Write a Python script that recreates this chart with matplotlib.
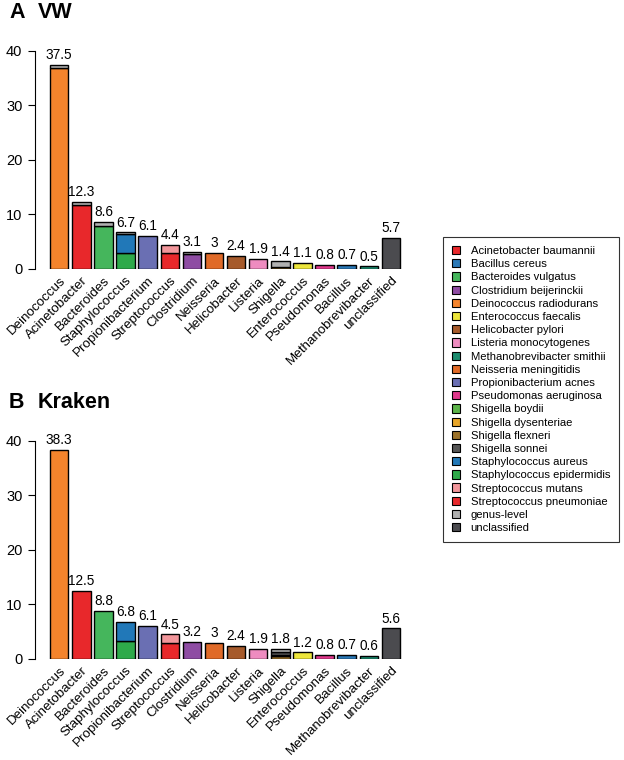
import numpy as np
import matplotlib.pyplot as plt
from matplotlib.patches import Patch

plt.rcParams['font.family'] = ['Liberation Sans', 'DejaVu Sans']

# genera on the x axis (same order in both panels)
genera = ["Deinococcus", "Acinetobacter", "Bacteroides", "Staphylococcus",
          "Propionibacterium", "Streptococcus", "Clostridium", "Neisseria",
          "Helicobacter", "Listeria", "Shigella", "Enterococcus",
          "Pseudomonas", "Bacillus", "Methanobrevibacter", "unclassified"]

# legend entries
species = ["Acinetobacter baumannii", "Bacillus cereus", "Bacteroides vulgatus",
           "Clostridium beijerinckii", "Deinococcus radiodurans",
           "Enterococcus faecalis", "Helicobacter pylori",
           "Listeria monocytogenes", "Methanobrevibacter smithii",
           "Neisseria meningitidis", "Propionibacterium acnes",
           "Pseudomonas aeruginosa", "Shigella boydii", "Shigella dysenteriae",
           "Shigella flexneri", "Shigella sonnei", "Staphylococcus aureus",
           "Staphylococcus epidermidis", "Streptococcus mutans",
           "Streptococcus pneumoniae", "genus-level", "unclassified"]

colors = ["#e8282b", "#2a78b6", "#45b65c", "#8e4ca3", "#f4842c", "#ece53b",
          "#a65a2b", "#ee8cc0", "#1c8c6f", "#e06a28", "#6a6fb3", "#e0388c",
          "#5cb44a", "#e8a629", "#9c7229", "#555555", "#2178b8", "#2eaa4a",
          "#f2969b", "#e8282b", "#b0b0b0", "#4b4b4f"]

# bottom -> top order of the stacked segments
stack_order = ["unclassified", "Acinetobacter baumannii", "Bacillus cereus",
               "Bacteroides vulgatus", "Clostridium beijerinckii",
               "Deinococcus radiodurans", "Enterococcus faecalis",
               "Helicobacter pylori", "Listeria monocytogenes",
               "Methanobrevibacter smithii", "Neisseria meningitidis",
               "Propionibacterium acnes", "Pseudomonas aeruginosa",
               "Shigella flexneri", "Shigella dysenteriae", "Shigella sonnei",
               "Shigella boydii", "Staphylococcus epidermidis",
               "Staphylococcus aureus", "Streptococcus pneumoniae",
               "Streptococcus mutans", "genus-level"]

vw_totals = [37.5, 12.3, 8.6, 6.7, 6.1, 4.4, 3.1, 3, 2.4, 1.9, 1.4, 1.1,
             0.8, 0.7, 0.5, 5.7]
kraken_totals = [38.3, 12.5, 8.8, 6.8, 6.1, 4.5, 3.2, 3, 2.4, 1.9, 1.8, 1.2,
                 0.8, 0.7, 0.6, 5.6]

vw_segments = [
    ("Deinococcus", "Deinococcus radiodurans", 36.8),
    ("Deinococcus", "genus-level", 0.7),
    ("Acinetobacter", "Acinetobacter baumannii", 11.8),
    ("Acinetobacter", "genus-level", 0.5),
    ("Bacteroides", "Bacteroides vulgatus", 7.9),
    ("Bacteroides", "genus-level", 0.7),
    ("Staphylococcus", "Staphylococcus epidermidis", 3.0),
    ("Staphylococcus", "Staphylococcus aureus", 3.5),
    ("Staphylococcus", "genus-level", 0.2),
    ("Propionibacterium", "Propionibacterium acnes", 6.1),
    ("Streptococcus", "Streptococcus pneumoniae", 2.9),
    ("Streptococcus", "Streptococcus mutans", 1.5),
    ("Clostridium", "Clostridium beijerinckii", 2.8),
    ("Clostridium", "genus-level", 0.3),
    ("Neisseria", "Neisseria meningitidis", 3.0),
    ("Helicobacter", "Helicobacter pylori", 2.4),
    ("Listeria", "Listeria monocytogenes", 1.9),
    ("Shigella", "Shigella flexneri", 0.3),
    ("Shigella", "Shigella sonnei", 0.15),
    ("Shigella", "genus-level", 0.95),
    ("Enterococcus", "Enterococcus faecalis", 1.1),
    ("Pseudomonas", "Pseudomonas aeruginosa", 0.8),
    ("Bacillus", "Bacillus cereus", 0.7),
    ("Methanobrevibacter", "Methanobrevibacter smithii", 0.5),
    ("unclassified", "unclassified", 5.7),
]

kraken_segments = [
    ("Deinococcus", "Deinococcus radiodurans", 38.3),
    ("Acinetobacter", "Acinetobacter baumannii", 12.5),
    ("Bacteroides", "Bacteroides vulgatus", 8.8),
    ("Staphylococcus", "Staphylococcus epidermidis", 3.3),
    ("Staphylococcus", "Staphylococcus aureus", 3.5),
    ("Propionibacterium", "Propionibacterium acnes", 6.1),
    ("Streptococcus", "Streptococcus pneumoniae", 2.9),
    ("Streptococcus", "Streptococcus mutans", 1.6),
    ("Clostridium", "Clostridium beijerinckii", 3.2),
    ("Neisseria", "Neisseria meningitidis", 3.0),
    ("Helicobacter", "Helicobacter pylori", 2.4),
    ("Listeria", "Listeria monocytogenes", 1.9),
    ("Shigella", "Shigella flexneri", 0.5),
    ("Shigella", "Shigella dysenteriae", 0.15),
    ("Shigella", "Shigella sonnei", 0.55),
    ("Shigella", "genus-level", 0.6),
    ("Enterococcus", "Enterococcus faecalis", 1.2),
    ("Pseudomonas", "Pseudomonas aeruginosa", 0.8),
    ("Bacillus", "Bacillus cereus", 0.7),
    ("Methanobrevibacter", "Methanobrevibacter smithii", 0.6),
    ("unclassified", "unclassified", 5.6),
]


def draw_panel(ax, segments, totals):
    x = np.arange(len(genera)) * 1.2 + 0.7
    bottoms = np.zeros(len(genera))
    for sp in stack_order:
        vals = np.zeros(len(genera))
        for g, s, v in segments:
            if s == sp:
                vals[genera.index(g)] += v
        mask = vals > 0
        if mask.any():
            ax.bar(x[mask], vals[mask], bottom=bottoms[mask], width=1,
                   color=colors[species.index(sp)], edgecolor='black',
                   linewidth=1.0)
        bottoms += vals
    for xi, t in zip(x, totals):
        ax.text(xi, t + 0.5, f'{t:g}', ha='center', va='bottom', fontsize=9.8)

    ax.set_xlim(-0.615, 19.74)
    ax.set_ylim(0, 42)
    ax.set_yticks([0, 10, 20, 30, 40])
    ax.spines['left'].set_bounds(0, 40)
    for side in ['top', 'right', 'bottom']:
        ax.spines[side].set_visible(False)
    ax.tick_params(axis='y', length=5, pad=4, labelsize=10.5)
    ax.set_xticks(x)
    ax.set_xticklabels(genera, rotation=45, ha='right',
                       rotation_mode='anchor', fontsize=9.6)
    ax.tick_params(axis='x', length=0, pad=4)


fig = plt.figure(figsize=(6.24, 7.6), dpi=100)

ax1 = fig.add_axes([35 / 624, 1 - 269 / 760, 375 / 624, 229 / 760])
draw_panel(ax1, vw_segments, vw_totals)

ax2 = fig.add_axes([35 / 624, 1 - 659 / 760, 375 / 624, 229 / 760])
draw_panel(ax2, kraken_segments, kraken_totals)

fig.text(9 / 624, 1 - 18 / 760, "A", fontsize=15.5, fontweight='bold')
fig.text(38 / 624, 1 - 18 / 760, "VW", fontsize=15.5, fontweight='bold')
fig.text(9 / 624, 1 - 408 / 760, "B", fontsize=15.5, fontweight='bold')
fig.text(38 / 624, 1 - 408 / 760, "Kraken", fontsize=15.5, fontweight='bold')

handles = [Patch(facecolor=c, edgecolor='black', linewidth=0.8) for c in colors]
leg = fig.legend(handles, species, loc='upper left',
                 bbox_to_anchor=(443 / 624, 1 - 237 / 760), fontsize=8.1,
                 frameon=True, fancybox=False, edgecolor='black',
                 handlelength=0.75, handleheight=0.75, handletextpad=0.9,
                 labelspacing=0.28, borderpad=0.8, borderaxespad=0)
leg.get_frame().set_linewidth(0.8)

fig.savefig("out.png", dpi=100)
